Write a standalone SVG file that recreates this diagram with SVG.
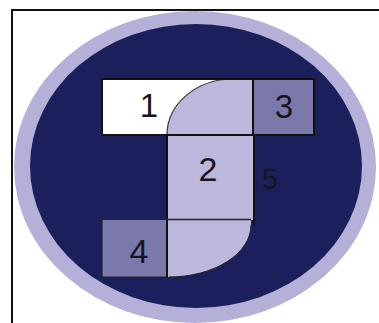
<svg xmlns="http://www.w3.org/2000/svg" width="379" height="323" viewBox="0 0 379 323">
<style>
.lbl{font-family:"Liberation Sans",Arial,sans-serif;fill:#1a1420;text-anchor:middle}
.ln{stroke:#111;stroke-width:2;fill:none}
.med{fill:#7b79ab}
.lav{fill:#bcb8dc}
</style>
<rect width="379" height="323" fill="#fff"/>
<path d="M12,323 V10 H379" fill="none" stroke="#111" stroke-width="2"/>
<ellipse cx="195" cy="167" rx="181" ry="156" fill="#b4b0d8"/>
<ellipse cx="196" cy="166" rx="166" ry="142" fill="#1b1f5c"/>
<g id="n1">
<rect x="102" y="79" width="151" height="56" fill="#fff"/>
</g>
<g id="n2">
<path class="lav" d="M167,135 A66,56 0 0 1 233,79 H253 V220 H167 Z"/>
<path d="M167,135 A66,56 0 0 1 233,79" fill="none" stroke="#333" stroke-width="1.2"/>
</g>
<g id="lower">
<path class="lav" d="M167,220 H251 V225 A82,52 0 0 1 169,277 H167 Z"/>
<path d="M251,225 A82,52 0 0 1 169,277" fill="none" stroke="#222" stroke-width="1"/>
</g>
<g id="n3">
<rect class="med" x="253" y="79" width="61" height="56"/>
</g>
<g id="n4">
<rect class="med" x="102" y="220" width="65" height="57"/>
</g>
<g id="connectors">
<rect class="ln" x="102" y="79" width="212" height="56"/>
<line class="ln" x1="253" y1="79" x2="253" y2="135"/>
<line class="ln" x1="167" y1="135" x2="167" y2="278"/>
<line class="ln" x1="254" y1="135" x2="254" y2="226"/>
<line x1="167" y1="219.5" x2="251" y2="219.5" stroke="#222" stroke-width="1.5"/>
<path d="M102,220 V277 H167" fill="none" stroke="#222" stroke-width="1.2"/>
</g>
<text class="lbl" x="149" y="117" font-size="33">1</text>
<text class="lbl" x="284" y="118" font-size="33">3</text>
<text class="lbl" x="208" y="181" font-size="34">2</text>
<text class="lbl" x="270" y="189" font-size="29">5</text>
<text class="lbl" x="139" y="263" font-size="34">4</text>
</svg>
